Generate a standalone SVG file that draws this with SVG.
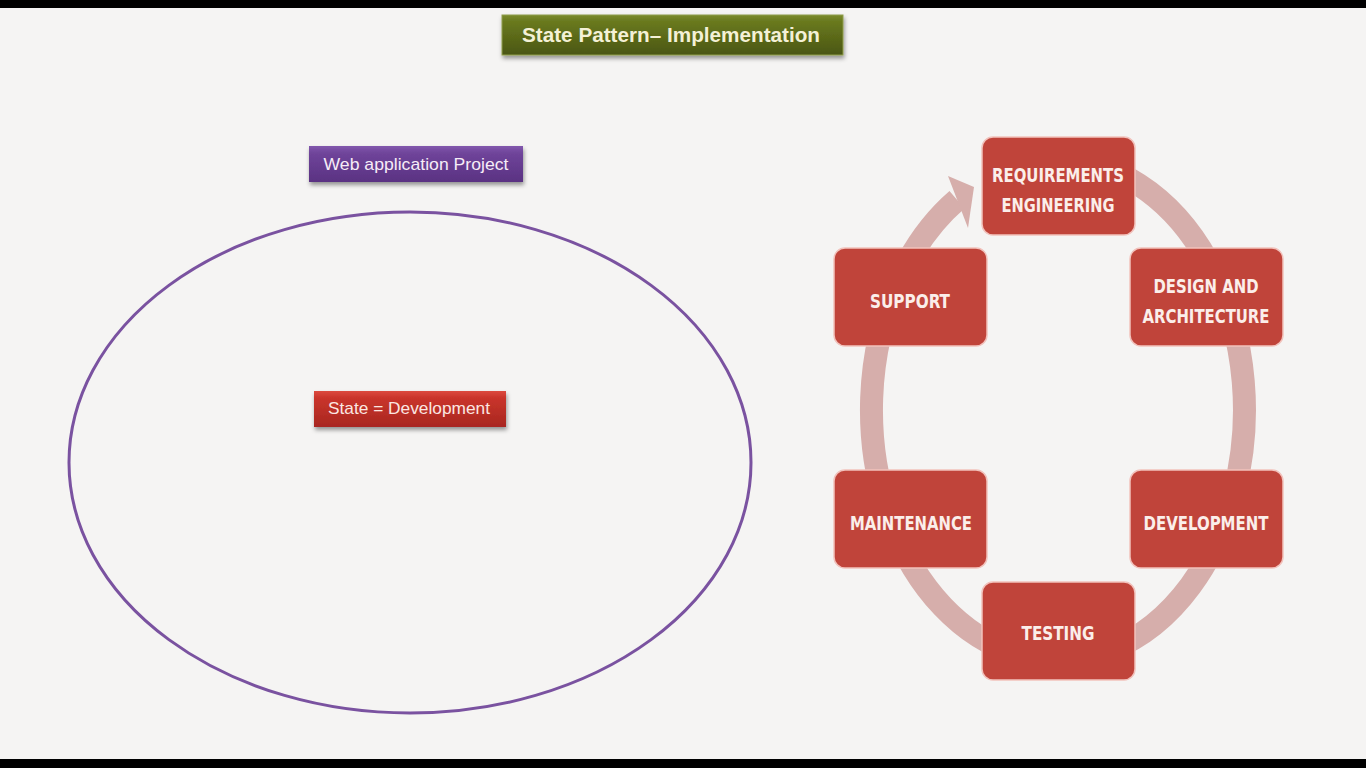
<svg xmlns="http://www.w3.org/2000/svg" width="1366" height="768" viewBox="0 0 1366 768">
<defs>
<linearGradient id="gGreen" x1="0" y1="0" x2="0" y2="1">
<stop offset="0" stop-color="#7b8b2c"/><stop offset="0.15" stop-color="#6a7a1f"/><stop offset="1" stop-color="#4a5612"/>
</linearGradient>
<linearGradient id="gPurple" x1="0" y1="0" x2="0" y2="1">
<stop offset="0" stop-color="#8258ad"/><stop offset="0.2" stop-color="#6f449a"/><stop offset="1" stop-color="#5a3282"/>
</linearGradient>
<linearGradient id="gRed" x1="0" y1="0" x2="0" y2="1">
<stop offset="0" stop-color="#dc4a3e"/><stop offset="0.2" stop-color="#c9342b"/><stop offset="1" stop-color="#a82720"/>
</linearGradient>
<filter id="shadow" x="-10%" y="-30%" width="120%" height="170%">
<feDropShadow dx="1" dy="3" stdDeviation="2" flood-color="#000" flood-opacity="0.4"/>
</filter>
<filter id="soft" x="-10%" y="-10%" width="120%" height="120%">
<feDropShadow dx="0" dy="0" stdDeviation="1.2" flood-color="#fff" flood-opacity="0.9"/>
</filter>
</defs>
<style>
.lbl{font-family:"Liberation Sans",Calibri,"Open Sans",sans-serif;text-anchor:middle}
.step rect{fill:#c0443a;stroke:#f2c2bc;stroke-width:1.5}
.step text{font-family:"DejaVu Sans Condensed","Liberation Sans Narrow","Liberation Sans",sans-serif;font-weight:bold;font-size:20px;fill:#fbeeea;text-anchor:middle}
</style>
<rect x="0" y="0" width="1366" height="768" fill="#f5f4f3"/>
<rect x="0" y="0" width="1366" height="8" fill="#000"/>
<rect x="0" y="759" width="1366" height="9" fill="#000"/>

<g id="title">
<rect x="502" y="15" width="341" height="40" fill="url(#gGreen)" stroke="#8e9c4a" stroke-width="1" filter="url(#shadow)"/>
<text class="lbl" x="671" y="42" font-size="21" font-weight="bold" fill="#f4f1d6" textLength="298" lengthAdjust="spacingAndGlyphs">State Pattern– Implementation</text>
</g>

<g id="web-project">
<rect x="309" y="146" width="214" height="36" fill="url(#gPurple)" filter="url(#shadow)"/>
<text class="lbl" x="416" y="170" font-size="17" fill="#f6ecf7" textLength="185" lengthAdjust="spacingAndGlyphs">Web application Project</text>
</g>

<g id="project-ellipse">
<ellipse cx="410" cy="462.5" rx="341" ry="250.5" fill="none" stroke="#7a52a0" stroke-width="3"/>
</g>

<g id="state">
<rect x="314" y="391" width="192" height="36" fill="url(#gRed)" filter="url(#shadow)"/>
<text class="lbl" x="409" y="414" font-size="17" fill="#fbe6e2" textLength="162" lengthAdjust="spacingAndGlyphs">State = Development</text>
</g>

<g id="connectors">
<path d="M1058 160 A186.5 250 0 1 1 957 199.8" fill="none" stroke="#d6aeab" stroke-width="23"/>
<polygon points="948,176 974,187 968,228" fill="#d6aeab"/>
</g>

<g id="req" class="step">
<rect x="982" y="137" width="153" height="98" rx="11"/>
<text x="1058" y="182" textLength="132" lengthAdjust="spacingAndGlyphs">REQUIREMENTS</text>
<text x="1058" y="212" textLength="113" lengthAdjust="spacingAndGlyphs">ENGINEERING</text>
</g>
<g id="design" class="step">
<rect x="1130" y="248" width="153" height="98" rx="11"/>
<text x="1206" y="293" textLength="105" lengthAdjust="spacingAndGlyphs">DESIGN AND</text>
<text x="1206" y="323" textLength="127" lengthAdjust="spacingAndGlyphs">ARCHITECTURE</text>
</g>
<g id="development" class="step">
<rect x="1130" y="470" width="153" height="98" rx="11"/>
<text x="1206" y="530" textLength="125" lengthAdjust="spacingAndGlyphs">DEVELOPMENT</text>
</g>
<g id="testing" class="step">
<rect x="982" y="582" width="153" height="98" rx="11"/>
<text x="1058" y="640" textLength="73" lengthAdjust="spacingAndGlyphs">TESTING</text>
</g>
<g id="maintenance" class="step">
<rect x="834" y="470" width="153" height="98" rx="11"/>
<text x="911" y="530" textLength="122" lengthAdjust="spacingAndGlyphs">MAINTENANCE</text>
</g>
<g id="support" class="step">
<rect x="834" y="248" width="153" height="98" rx="11"/>
<text x="910" y="308" textLength="80" lengthAdjust="spacingAndGlyphs">SUPPORT</text>
</g>
</svg>
